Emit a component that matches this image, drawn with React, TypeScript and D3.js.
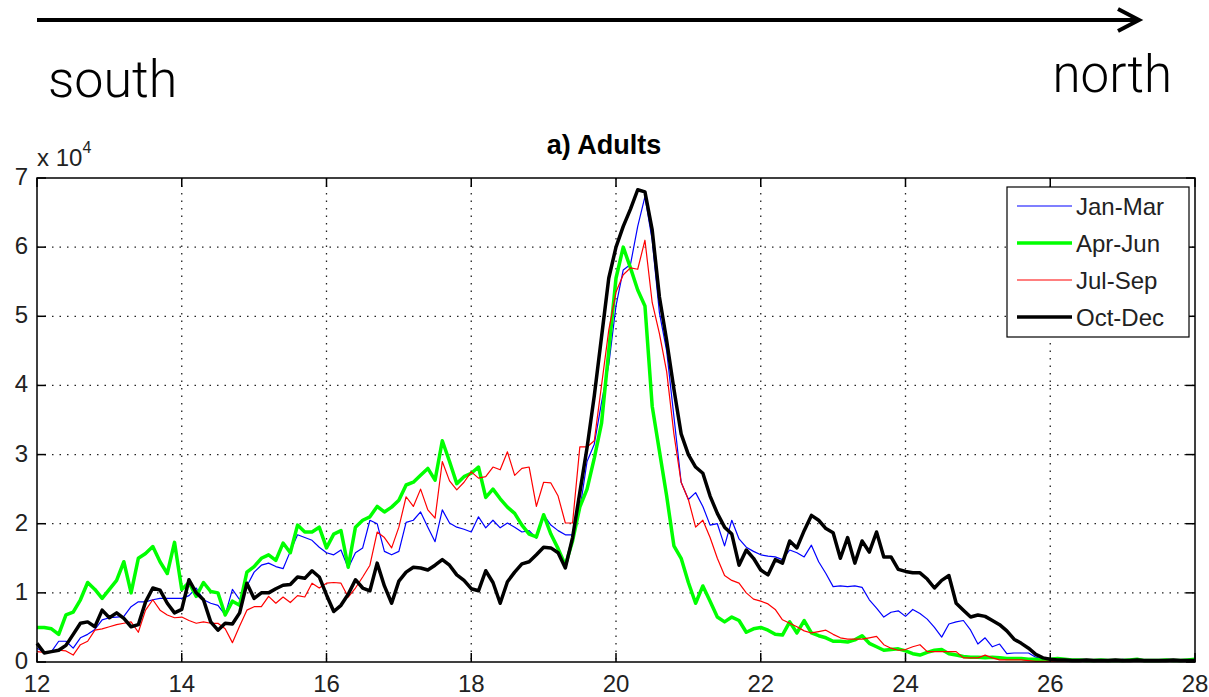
import React, { useEffect, useRef } from 'react';
import * as d3 from 'd3';

const width = 1209, height = 697;
// plot box in px
const plot = { left: 37, right: 1195, top: 178, bottom: 662 };

// latitude grid: 12.0 .. 28.0 in 0.1 steps
const latStart = 12;
const latStep = 0.1;

// abundance, units of 10^4
const janMar = [
  0.20,0.14,0.15,0.30,0.30,0.20,0.35,0.40,0.47,0.61,
  0.64,0.65,0.66,0.80,0.87,0.87,0.90,0.92,0.92,0.92,
  0.92,0.96,1.07,0.90,0.85,0.82,0.68,1.05,0.90,1.10,
  1.30,1.40,1.43,1.38,1.35,1.60,1.84,1.80,1.76,1.66,
  1.58,1.55,1.62,1.36,1.58,1.65,2.05,2.00,1.60,1.55,
  1.60,2.02,2.05,2.17,1.95,1.74,2.20,2.01,1.95,1.92,
  1.88,2.10,1.94,2.05,1.94,2.01,1.95,1.88,1.90,1.79,
  2.13,1.98,1.90,1.84,1.84,2.20,2.90,3.15,3.75,4.30,
  5.15,5.67,5.75,6.30,6.73,6.10,5.05,4.50,3.55,2.60,
  2.35,2.45,2.25,1.98,2.00,1.68,2.05,1.78,1.66,1.60,
  1.55,1.53,1.52,1.48,1.62,1.58,1.52,1.69,1.45,1.28,
  1.09,1.10,1.09,1.10,1.08,0.90,0.78,0.65,0.72,0.74,
  0.66,0.76,0.70,0.62,0.50,0.36,0.55,0.58,0.60,0.46,
  0.26,0.35,0.22,0.26,0.12,0.13,0.13,0.13,0.07,0.04,
  0.03,0.02,0.02,0.01,0.01,0.01,0.01,0.01,0.01,0.02,
  0.04,0.02,0.01,0.01,0.01,0.01,0.01,0.01,0.01,0.01,
  0.01
];

const aprJun = [
  0.50,0.50,0.48,0.40,0.68,0.72,0.90,1.15,1.05,0.92,
  1.05,1.18,1.45,1.00,1.50,1.57,1.67,1.45,1.28,1.73,
  1.05,1.15,0.95,1.15,1.02,1.00,0.68,0.88,0.82,1.30,
  1.38,1.50,1.55,1.47,1.72,1.58,1.98,1.88,1.88,1.95,
  1.65,1.85,1.90,1.37,1.95,2.05,2.10,2.25,2.17,2.24,
  2.34,2.56,2.60,2.70,2.80,2.63,3.20,2.90,2.58,2.68,
  2.73,2.82,2.38,2.50,2.36,2.24,2.15,1.98,1.85,1.81,
  2.13,1.85,1.64,1.40,1.75,2.24,2.50,2.95,3.45,4.50,
  5.55,6.00,5.70,5.38,5.15,3.70,3.05,2.40,1.68,1.50,
  1.15,0.85,1.10,0.88,0.65,0.58,0.65,0.60,0.43,0.48,
  0.50,0.46,0.40,0.39,0.58,0.42,0.60,0.42,0.38,0.35,
  0.30,0.30,0.29,0.32,0.38,0.27,0.22,0.17,0.18,0.19,
  0.16,0.12,0.10,0.14,0.17,0.18,0.12,0.10,0.08,0.07,
  0.07,0.06,0.07,0.06,0.05,0.05,0.05,0.04,0.04,0.03,
  0.04,0.05,0.04,0.03,0.03,0.02,0.02,0.03,0.02,0.02,
  0.02,0.03,0.04,0.02,0.02,0.02,0.03,0.02,0.02,0.03,
  0.04
];

const julSep = [
  0.15,0.14,0.15,0.17,0.16,0.10,0.25,0.30,0.46,0.48,
  0.51,0.54,0.56,0.58,0.43,0.75,0.90,0.75,0.68,0.64,
  0.65,0.60,0.56,0.58,0.56,0.56,0.48,0.28,0.52,0.75,
  0.80,0.80,0.95,0.85,0.94,0.86,0.96,0.94,1.14,1.07,
  1.14,1.15,1.14,0.94,1.07,1.23,1.40,1.88,1.80,1.65,
  1.95,2.39,2.25,2.50,2.20,2.08,2.90,2.62,2.49,2.60,
  2.75,2.66,2.68,2.82,2.78,3.04,2.70,2.80,2.82,2.25,
  2.60,2.59,2.40,2.01,2.01,3.11,3.11,3.20,4.00,4.80,
  5.35,5.60,5.70,5.68,6.10,5.20,4.75,4.20,3.30,2.60,
  2.35,1.95,2.05,1.80,1.50,1.25,1.18,1.14,1.00,0.91,
  0.88,0.84,0.76,0.61,0.56,0.51,0.45,0.42,0.44,0.46,
  0.40,0.35,0.33,0.33,0.33,0.35,0.37,0.25,0.20,0.17,
  0.18,0.22,0.25,0.15,0.15,0.15,0.15,0.15,0.06,0.06,
  0.06,0.10,0.06,0.03,0.03,0.03,0.03,0.02,0.01,0.01,
  0.01,0.01,0.01,0.01,0.01,0.01,0.01,0.01,0.01,0.01,
  0.03,0.01,0.01,0.01,0.01,0.01,0.01,0.01,0.01,0.01,
  0.01
];

const octDec = [
  0.27,0.13,0.15,0.17,0.24,0.40,0.56,0.58,0.51,0.75,
  0.64,0.71,0.63,0.51,0.54,0.87,1.07,1.04,0.85,0.71,
  0.76,1.19,1.00,0.90,0.58,0.46,0.56,0.55,0.71,1.14,
  0.92,1.00,1.00,1.06,1.11,1.12,1.23,1.21,1.32,1.23,
  0.97,0.73,0.82,0.98,1.19,1.07,1.03,1.43,1.10,0.85,
  1.17,1.30,1.37,1.36,1.33,1.40,1.48,1.40,1.26,1.18,
  1.06,1.03,1.32,1.15,0.85,1.16,1.30,1.42,1.45,1.55,
  1.66,1.65,1.58,1.36,1.80,2.45,3.10,3.85,4.70,5.55,
  6.00,6.30,6.55,6.83,6.80,6.25,5.28,4.65,3.95,3.30,
  3.00,2.82,2.73,2.40,2.15,1.95,1.85,1.40,1.62,1.50,
  1.33,1.26,1.48,1.43,1.75,1.65,1.90,2.12,2.05,1.93,
  1.87,1.50,1.80,1.43,1.75,1.59,1.88,1.52,1.52,1.34,
  1.31,1.29,1.29,1.20,1.07,1.18,1.25,0.85,0.75,0.65,
  0.68,0.66,0.60,0.54,0.45,0.33,0.27,0.20,0.11,0.06,
  0.04,0.03,0.03,0.02,0.02,0.03,0.02,0.02,0.02,0.03,
  0.02,0.02,0.03,0.02,0.02,0.02,0.02,0.03,0.02,0.02,
  0.02
];

const seriesNames = ['Jan-Mar', 'Apr-Jun', 'Jul-Sep', 'Oct-Dec'];
const seriesColors = ['#0000ff', '#00ff00', '#ff0000', '#000000'];
const seriesWidths = [1.2, 3.5, 1.2, 3.5];

const xTicks = [12, 14, 16, 18, 20, 22, 24, 26, 28];
const yTicks = [0, 1, 2, 3, 4, 5, 6, 7];

const axisFont = '"Liberation Sans", Arial, sans-serif';

export default function App() {
  const ref = useRef<SVGSVGElement>(null);

  useEffect(() => {
    const svg = d3.select(ref.current);
    svg.selectAll('*').remove();

    const x = d3.scaleLinear().domain([12, 28]).range([plot.left, plot.right]);
    const y = d3.scaleLinear().domain([0, 7]).range([plot.bottom, plot.top]);

    // top arrow + direction words
    svg.append('line')
      .attr('x1', 37).attr('x2', 1138).attr('y1', 20).attr('y2', 20)
      .attr('stroke', '#000').attr('stroke-width', 4);
    svg.append('path')
      .attr('d', 'M1118,9 L1139,20 L1118,31')
      .attr('fill', 'none').attr('stroke', '#000').attr('stroke-width', 4)
      .attr('stroke-linejoin', 'miter');
    svg.append('text')
      .attr('x', 48).attr('y', 97)
      .attr('font-family', 'Roboto, sans-serif').attr('font-weight', 300)
      .attr('font-size', 52).text('south');
    svg.append('text')
      .attr('x', 1172).attr('y', 92).attr('text-anchor', 'end')
      .attr('font-family', 'Roboto, sans-serif').attr('font-weight', 300)
      .attr('font-size', 51).text('north');

    // title
    svg.append('text')
      .attr('x', 604).attr('y', 154).attr('text-anchor', 'middle')
      .attr('font-family', axisFont).attr('font-weight', 'bold')
      .attr('font-size', 27).text('a) Adults');

    // grid
    const g = svg.append('g');
    g.selectAll('.gx')
      .data(xTicks.slice(1, -1))
      .enter().append('line')
      .attr('x1', d => x(d)).attr('x2', d => x(d))
      .attr('y1', plot.top).attr('y2', plot.bottom)
      .attr('stroke', '#222').attr('stroke-width', 1.3)
      .attr('stroke-dasharray', '1.5,6');
    g.selectAll('.gy')
      .data(yTicks.slice(1, -1))
      .enter().append('line')
      .attr('x1', plot.left).attr('x2', plot.right)
      .attr('y1', d => y(d)).attr('y2', d => y(d))
      .attr('stroke', '#222').attr('stroke-width', 1.3)
      .attr('stroke-dasharray', '1.5,6');

    // lines
    const line = d3.line<number>()
      .x((d, i) => x(latStart + i * latStep))
      .y(d => y(d));
    const allSeries = [janMar, aprJun, julSep, octDec];
    allSeries.forEach((vals, k) => {
      svg.append('path')
        .datum(vals)
        .attr('d', line)
        .attr('fill', 'none')
        .attr('stroke', seriesColors[k])
        .attr('stroke-width', seriesWidths[k])
        .attr('stroke-linejoin', 'round');
    });

    // axes box
    svg.append('rect')
      .attr('x', plot.left).attr('y', plot.top)
      .attr('width', plot.right - plot.left).attr('height', plot.bottom - plot.top)
      .attr('fill', 'none').attr('stroke', '#000').attr('stroke-width', 1.5);

    // ticks inward on all four sides
    const tk = 9;
    xTicks.forEach(t => {
      svg.append('line').attr('x1', x(t)).attr('x2', x(t))
        .attr('y1', plot.bottom).attr('y2', plot.bottom - tk)
        .attr('stroke', '#000').attr('stroke-width', 1.5);
      svg.append('line').attr('x1', x(t)).attr('x2', x(t))
        .attr('y1', plot.top).attr('y2', plot.top + tk)
        .attr('stroke', '#000').attr('stroke-width', 1.5);
    });
    yTicks.forEach(t => {
      svg.append('line').attr('x1', plot.left).attr('x2', plot.left + tk)
        .attr('y1', y(t)).attr('y2', y(t))
        .attr('stroke', '#000').attr('stroke-width', 1.5);
      svg.append('line').attr('x1', plot.right).attr('x2', plot.right - tk)
        .attr('y1', y(t)).attr('y2', y(t))
        .attr('stroke', '#000').attr('stroke-width', 1.5);
    });

    // tick labels
    svg.selectAll('.xl')
      .data(xTicks)
      .enter().append('text')
      .attr('x', d => x(d)).attr('y', 692)
      .attr('text-anchor', 'middle')
      .attr('font-family', axisFont).attr('font-size', 24)
      .attr('fill', '#222')
      .text(d => d);
    svg.selectAll('.yl')
      .data(yTicks)
      .enter().append('text')
      .attr('x', 28).attr('y', d => y(d) + 7)
      .attr('text-anchor', 'end')
      .attr('font-family', axisFont).attr('font-size', 24)
      .attr('fill', '#222')
      .text(d => d);

    // exponent label
    const ex = svg.append('text')
      .attr('x', 37).attr('y', 166)
      .attr('font-family', axisFont).attr('font-size', 24)
      .attr('fill', '#222');
    ex.append('tspan').text('x 10');
    ex.append('tspan').attr('dy', -13).attr('font-size', 16).text('4');

    // legend
    const lg = svg.append('g');
    lg.append('rect')
      .attr('x', 1007).attr('y', 187).attr('width', 182).attr('height', 150)
      .attr('fill', '#fff').attr('stroke', '#000').attr('stroke-width', 1.2);
    seriesNames.forEach((name, k) => {
      const yy = 206 + k * 37;
      lg.append('line')
        .attr('x1', 1017).attr('x2', 1072).attr('y1', yy).attr('y2', yy)
        .attr('stroke', seriesColors[k]).attr('stroke-width', seriesWidths[k]);
      lg.append('text')
        .attr('x', 1076).attr('y', yy + 9)
        .attr('font-family', axisFont).attr('font-size', 24)
        .attr('fill', '#222')
        .text(name);
    });
  }, []);

  return (
    <svg ref={ref} width={width} height={height}
      style={{ position: 'absolute', left: 0, top: 0, background: '#fff' }} />
  );
}
